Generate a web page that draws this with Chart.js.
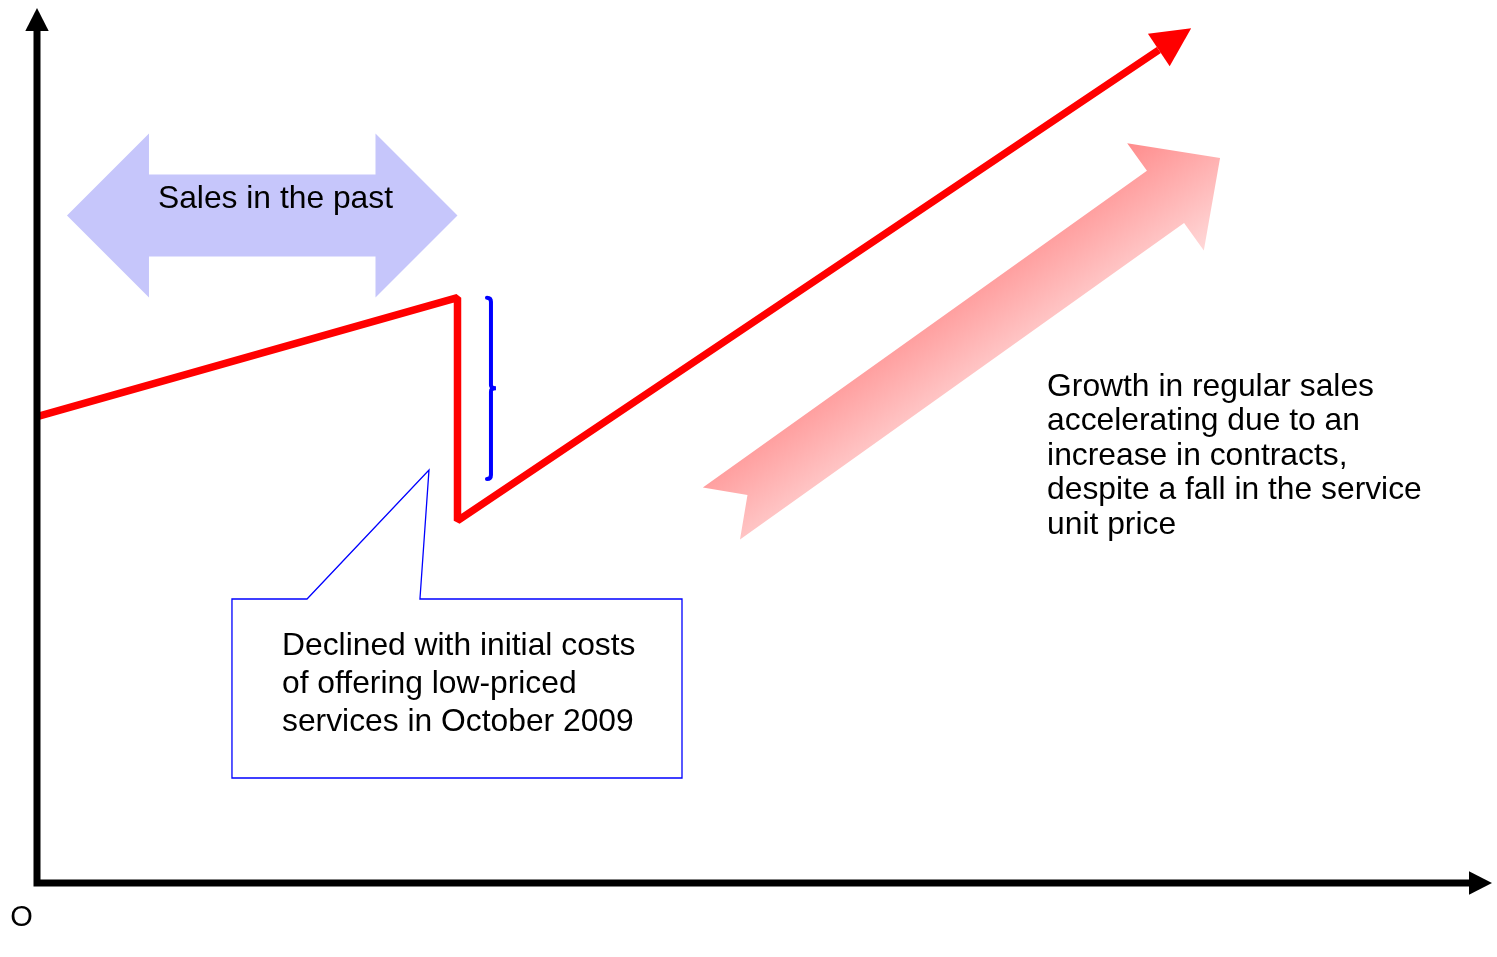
<!DOCTYPE html>
<html>
<head>
<meta charset="utf-8">
<script src="https://cdn.jsdelivr.net/npm/chart.js@4.4.1/dist/chart.umd.min.js"></script>
<style>
html,body{margin:0;padding:0;background:#fff;}
canvas{display:block;}
</style>
</head>
<body>
<canvas id="c" width="1497" height="957"></canvas>
<script>
// Sales trend in conceptual units (0-100 on both axes)
const periods = [0, 28.9, 28.9, 77.1];
const sales   = [53.3, 66.9, 41.4, 95.2];

const pastLabel    = 'Sales in the past';
const calloutLines = ['Declined with initial costs', 'of offering low-priced', 'services in October 2009'];
const growthLines  = ['Growth in regular sales', 'accelerating due to an', 'increase in contracts,', 'despite a fall in the service', 'unit price'];
const originLabel  = 'O';

const FONT = '"Liberation Sans", Arial, Helvetica, sans-serif';

function unit(ax, ay, bx, by) {
  const dx = bx - ax, dy = by - ay, L = Math.hypot(dx, dy);
  return { dx: dx / L, dy: dy / L, L };
}

// filled triangular head: base centre (bx,by), direction (dx,dy)
function head(ctx, bx, by, dx, dy, len, half, color) {
  const nx = -dy, ny = dx;
  ctx.beginPath();
  ctx.moveTo(bx + dx * len, by + dy * len);
  ctx.lineTo(bx + nx * half, by + ny * half);
  ctx.lineTo(bx - nx * half, by - ny * half);
  ctx.closePath();
  ctx.fillStyle = color;
  ctx.fill();
}

const diagram = {
  id: 'diagram',
  beforeDatasetsDraw(chart) {
    const { ctx, scales: { x, y } } = chart;
    const X = v => x.getPixelForValue(v), Y = v => y.getPixelForValue(v);
    ctx.save();

    // "Sales in the past" double-headed arrow over the earlier period
    const cy = Y(76.3), lx = X(2.06), rx = X(periods[1]);
    const hl = 82, hh = 82, sh = 41;
    ctx.beginPath();
    ctx.moveTo(lx, cy);
    ctx.lineTo(lx + hl, cy - hh);
    ctx.lineTo(lx + hl, cy - sh);
    ctx.lineTo(rx - hl, cy - sh);
    ctx.lineTo(rx - hl, cy - hh);
    ctx.lineTo(rx, cy);
    ctx.lineTo(rx - hl, cy + hh);
    ctx.lineTo(rx - hl, cy + sh);
    ctx.lineTo(lx + hl, cy + sh);
    ctx.lineTo(lx + hl, cy + hh);
    ctx.closePath();
    ctx.fillStyle = '#c6c6fb';
    ctx.fill();

    ctx.fillStyle = '#000';
    ctx.font = '31.8px ' + FONT;
    ctx.textAlign = 'center';
    ctx.textBaseline = 'alphabetic';
    ctx.fillText(pastLabel, X(16.39), Y(77.14));

    // wide notched arrow showing the growth trend
    const tx = X(47.04), ty = Y(42.23), px = X(81.31), py = Y(82.86);
    const u = unit(tx, ty, px, py);
    const nx = -u.dy, ny = u.dx;
    const P = (a, b) => [tx + u.dx * a + nx * b, ty + u.dy * a + ny * b];
    const L = u.L, hb = L - 67;
    const pts = [P(0, -32), P(hb, -32), P(hb, -66), P(L, 0), P(hb, 66), P(hb, 32), P(0, 32), P(32, 0)];
    ctx.beginPath();
    pts.forEach((p, i) => i ? ctx.lineTo(p[0], p[1]) : ctx.moveTo(p[0], p[1]));
    ctx.closePath();
    const mx = (tx + px) / 2, my = (ty + py) / 2;
    const g = ctx.createLinearGradient(mx - nx * 66, my - ny * 66, mx + nx * 66, my + ny * 66);
    g.addColorStop(0, '#ff8c8c');
    g.addColorStop(1, '#ffd8d8');
    ctx.fillStyle = g;
    ctx.fill();

    ctx.restore();
  },
  afterDatasetsDraw(chart) {
    const { ctx, chartArea: a, scales: { x, y } } = chart;
    const X = v => x.getPixelForValue(v), Y = v => y.getPixelForValue(v);
    ctx.save();

    // arrowhead at the end of the sales line
    const pts = chart.getDatasetMeta(0).data;
    const p1 = pts[pts.length - 2], p2 = pts[pts.length - 1];
    const u = unit(p1.x, p1.y, p2.x, p2.y);
    head(ctx, p2.x, p2.y, u.dx, u.dy, 39, 19.5, '#ff0000');

    // axes with arrowheads
    const ox = X(0), oy = Y(0);
    ctx.strokeStyle = '#000';
    ctx.lineWidth = 7;
    ctx.lineCap = 'butt';
    ctx.beginPath();
    ctx.moveTo(ox, oy + 3.5);
    ctx.lineTo(ox, a.top + 23);
    ctx.moveTo(ox - 3.5, oy);
    ctx.lineTo(a.right - 23, oy);
    ctx.stroke();
    head(ctx, ox, a.top + 23, 0, -1, 23, 11.7, '#000');
    head(ctx, a.right - 23, oy, 1, 0, 23, 11.7, '#000');

    ctx.fillStyle = '#000';
    ctx.font = '29px ' + FONT;
    ctx.textAlign = 'center';
    ctx.textBaseline = 'alphabetic';
    ctx.fillText(originLabel, ox - 15.5, oy + 43);

    // brace marking the drop
    const bx = X(31.2), bt = Y(sales[1]), bb = Y(46.17), bm = (bt + bb) / 2;
    ctx.strokeStyle = '#0000ff';
    ctx.lineWidth = 4;
    ctx.lineCap = 'round';
    ctx.beginPath();
    ctx.moveTo(bx - 4, bt);
    ctx.quadraticCurveTo(bx, bt, bx, bt + 4);
    ctx.lineTo(bx, bm - 3);
    ctx.quadraticCurveTo(bx, bm, bx + 5, bm);
    ctx.quadraticCurveTo(bx, bm, bx, bm + 3);
    ctx.lineTo(bx, bb - 4);
    ctx.quadraticCurveTo(bx, bb, bx - 4, bb);
    ctx.stroke();

    // callout box with pointer
    const l = X(13.4), r = X(44.33), t = Y(32.46), b = Y(12.0);
    ctx.beginPath();
    ctx.moveTo(X(18.56), t);
    ctx.lineTo(X(26.94), Y(47.2));
    ctx.lineTo(X(26.32), t);
    ctx.lineTo(r, t);
    ctx.lineTo(r, b);
    ctx.lineTo(l, b);
    ctx.lineTo(l, t);
    ctx.closePath();
    ctx.fillStyle = '#fff';
    ctx.fill();
    ctx.strokeStyle = '#0000ff';
    ctx.lineWidth = 1.3;
    ctx.lineJoin = 'miter';
    ctx.stroke();

    ctx.fillStyle = '#000';
    ctx.font = '31.8px ' + FONT;
    ctx.textAlign = 'left';
    const cx0 = X(16.84), cy0 = Y(26.06);
    calloutLines.forEach((s, i) => ctx.fillText(s, cx0, cy0 + i * 38));

    // growth note
    const gx = X(69.42), gy = Y(55.66);
    growthLines.forEach((s, i) => ctx.fillText(s, gx, gy + i * 34.5));

    ctx.restore();
  }
};

new Chart(document.getElementById('c'), {
  type: 'line',
  data: {
    datasets: [{
      data: periods.map((p, i) => ({ x: p, y: sales[i] })),
      borderColor: '#ff0000',
      borderWidth: 7.5,
      borderJoinStyle: 'bevel',
      borderCapStyle: 'butt',
      pointRadius: 0,
      tension: 0,
      fill: false
    }]
  },
  options: {
    responsive: false,
    animation: false,
    layout: { padding: { left: 37, right: 5, top: 8, bottom: 74 } },
    scales: {
      x: { type: 'linear', min: 0, max: 100, display: false },
      y: { type: 'linear', min: 0, max: 100, display: false }
    },
    plugins: { legend: { display: false }, tooltip: { enabled: false } },
    events: []
  },
  plugins: [diagram]
});
</script>
</body>
</html>
